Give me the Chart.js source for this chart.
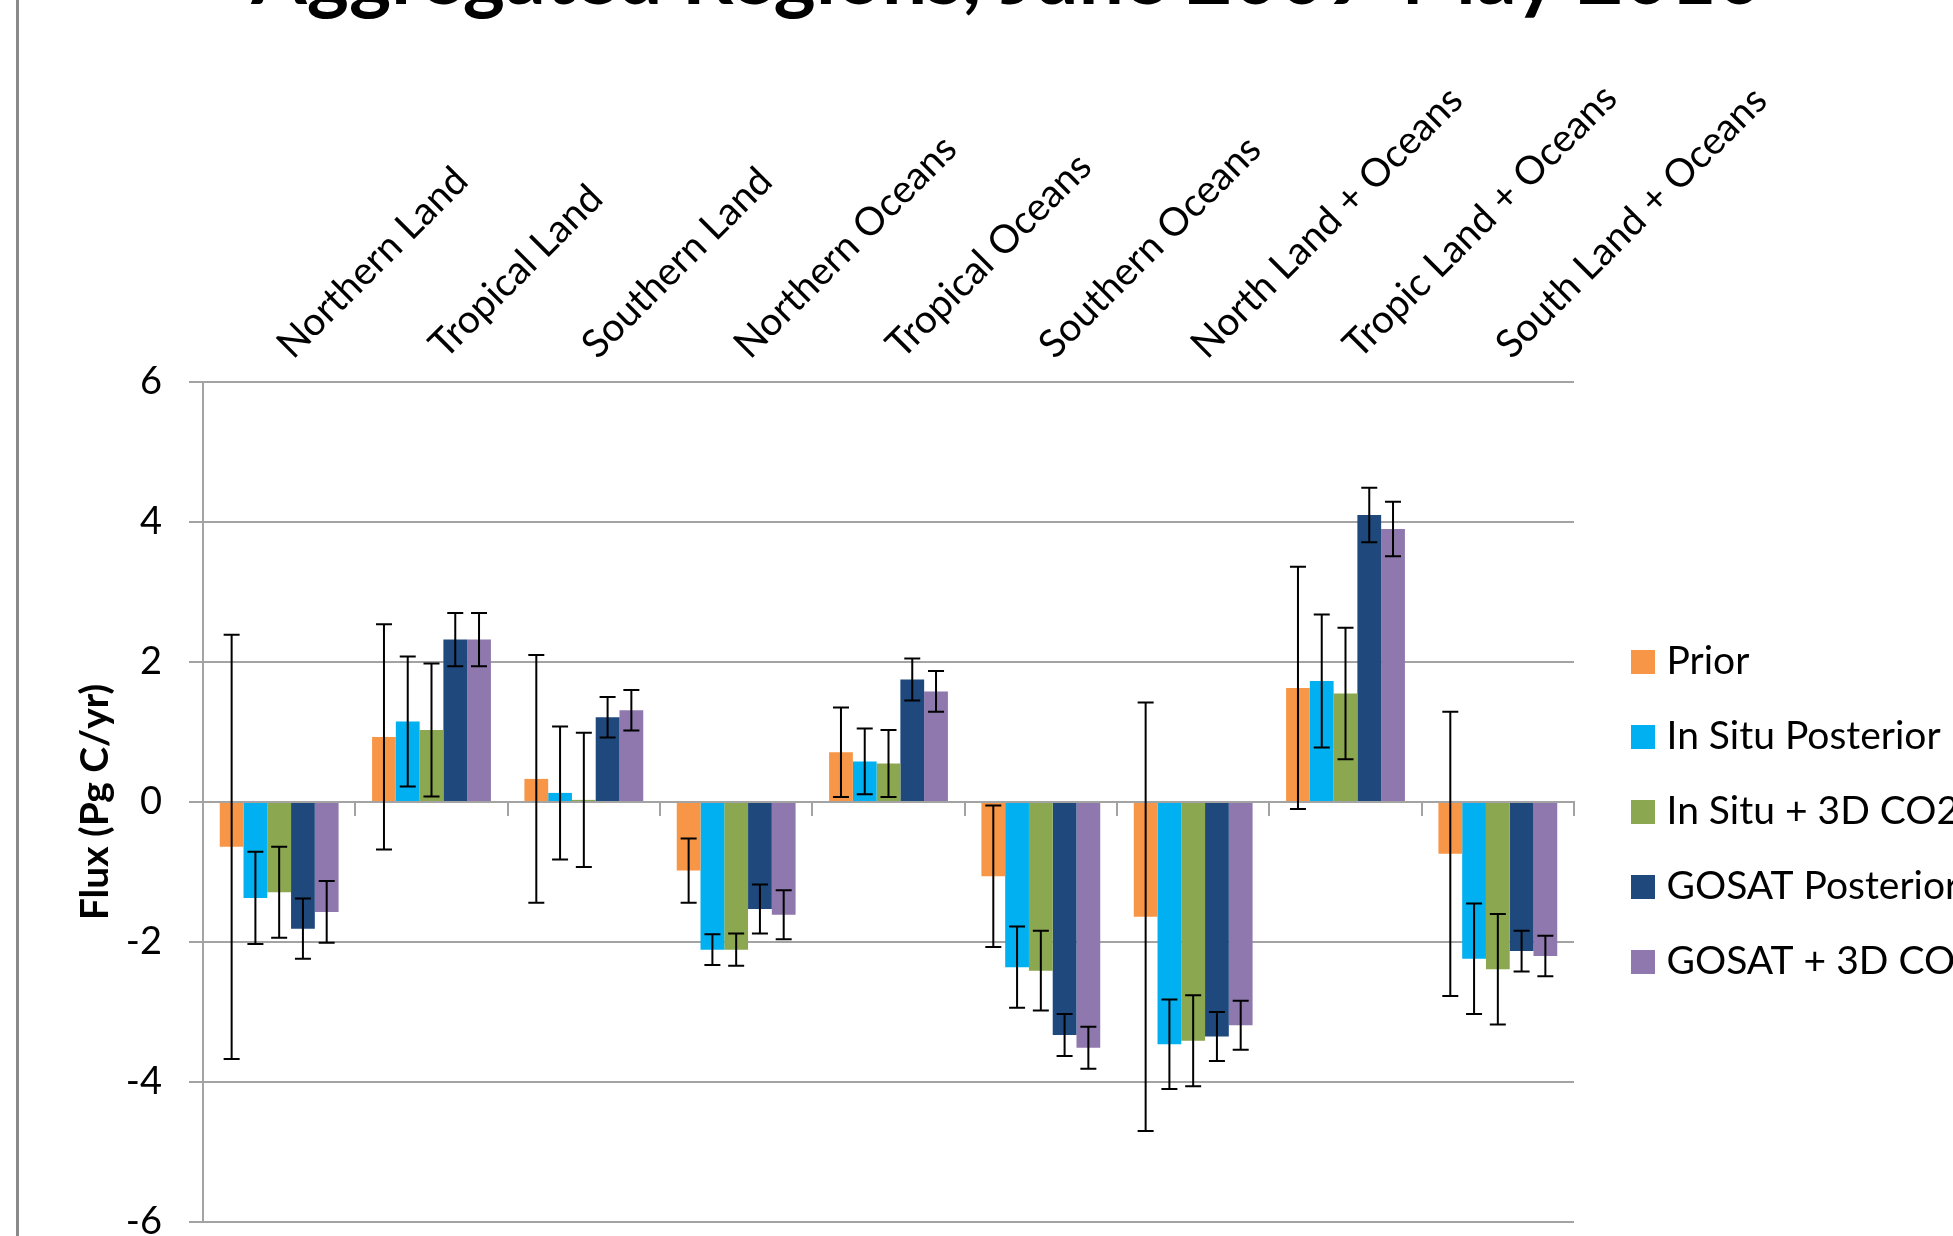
<!DOCTYPE html>
<html>
<head>
<meta charset="utf-8">
<script src="https://cdn.jsdelivr.net/npm/chart.js@4/dist/chart.umd.min.js"></script>
<style>
  html, body { margin: 0; padding: 0; background: #fff; overflow: hidden; width: 1953px; height: 1236px; }
  #wrap { position: absolute; left: 0; top: 0; }
</style>
</head>
<body>
<div id="wrap"><canvas id="chart"></canvas></div>
<script>
// Regional carbon flux estimates (Pg C/yr) with 1-sigma uncertainties
const regions = ['Northern Land', 'Tropical Land', 'Southern Land', 'Northern Oceans', 'Tropical Oceans',
                 'Southern Oceans', 'North Land + Oceans', 'Tropic Land + Oceans', 'South Land + Oceans'];
const seriesNames = ['Prior', 'In Situ Posterior', 'In Situ + 3D CO2', 'GOSAT Posterior', 'GOSAT + 3D CO2'];

const prior          = [-0.64, 0.93, 0.33, -0.98, 0.71, -1.06, -1.64, 1.63, -0.74];
const priorErr       = [ 3.03, 1.61, 1.77,  0.46, 0.64,  1.01,  3.06, 1.73,  2.03];
const inSitu         = [-1.37, 1.15, 0.13, -2.11, 0.58, -2.36, -3.46, 1.73, -2.24];
const inSituErr      = [ 0.66, 0.93, 0.95,  0.22, 0.47,  0.58,  0.64, 0.95,  0.79];
const inSitu3d       = [-1.29, 1.03, 0.03, -2.11, 0.55, -2.41, -3.41, 1.55, -2.39];
const inSitu3dErr    = [ 0.65, 0.95, 0.96,  0.23, 0.48,  0.57,  0.65, 0.94,  0.79];
const gosat          = [-1.81, 2.32, 1.21, -1.53, 1.75, -3.33, -3.35, 4.10, -2.13];
const gosatErr       = [ 0.43, 0.38, 0.29,  0.35, 0.30,  0.30,  0.35, 0.39,  0.29];
const gosat3d        = [-1.57, 2.32, 1.31, -1.61, 1.58, -3.51, -3.19, 3.90, -2.20];
const gosat3dErr     = [ 0.44, 0.38, 0.29,  0.35, 0.29,  0.30,  0.35, 0.39,  0.29];

const yTickMin = -6, yTickMax = 6, yTickStep = 2;

const seriesColors = ['#F79646', '#00B0F0', '#8BA74F', '#1F497D', '#8E78AD'];
const seriesValues = [prior, inSitu, inSitu3d, gosat, gosat3d];
const seriesErrors = [priorErr, inSituErr, inSitu3dErr, gosatErr, gosat3dErr];

// ---- layout (the chart object is larger than the page; its top strip sits above the fold) ----
const FONT = 'Lato';
const OFFSET = 70;                       // canvas rows hidden above the page
const CANVAS_W = 2100, CANVAS_H = 1236 + OFFSET + 60;
const TITLE_CENTER = 1007;
const PLOT_LEFT = 203, PLOT_RIGHT = 1574, PLOT_TOP = 382 + OFFSET, PLOT_BOTTOM = 1222 + OFFSET;
const TITLE_SIZE = 80, TITLE_LH = 1.2;
const LEGEND_SIZE = 39, LEGEND_PAD = 36, SWATCH_SLOT = 37;
const GRID = '#a3a3a3';

const canvas = document.getElementById('chart');
canvas.width = CANVAS_W;
canvas.height = CANVAS_H;
const wrap = document.getElementById('wrap');
wrap.style.top = (-OFFSET) + 'px';
wrap.style.width = CANVAS_W + 'px';
wrap.style.height = CANVAS_H + 'px';

// legend swatches: a 24px square sitting at the right of a transparent slot
const swatches = seriesColors.map(c => {
  const cv = document.createElement('canvas');
  cv.width = 53; cv.height = 24;
  const g = cv.getContext('2d');
  g.fillStyle = c;
  g.fillRect(29, 0, 24, 24);
  return cv;
});

// estimate legend width so that the plot's right edge and title centre land where wanted
const m = document.createElement('canvas').getContext('2d');
m.font = LEGEND_SIZE + 'px ' + FONT;
const widest = Math.max(...seriesNames.map(n => m.measureText(n).width));
const legendW = LEGEND_PAD + SWATCH_SLOT + LEGEND_SIZE / 2 + widest + 10;
const pad = { left: 0, right: 0, top: 0, bottom: CANVAS_H - PLOT_BOTTOM };
pad.right = CANVAS_W - PLOT_RIGHT - legendW;
pad.left = 2 * TITLE_CENTER - CANVAS_W + pad.right;

Chart.defaults.color = '#000';
Chart.defaults.font.family = FONT;

const errorBars = {
  id: 'errorBars',
  afterDatasetsDraw(chart) {
    const ctx = chart.ctx, yScale = chart.scales.y, cap = 8;
    ctx.save();
    ctx.strokeStyle = '#000';
    ctx.lineWidth = 2;
    chart.data.datasets.forEach((ds, i) => {
      chart.getDatasetMeta(i).data.forEach((bar, j) => {
        const yHi = yScale.getPixelForValue(ds.data[j] + ds.errors[j]);
        const yLo = yScale.getPixelForValue(ds.data[j] - ds.errors[j]);
        const x = bar.x;
        ctx.beginPath();
        ctx.moveTo(x, yHi); ctx.lineTo(x, yLo);
        ctx.moveTo(x - cap, yHi); ctx.lineTo(x + cap, yHi);
        ctx.moveTo(x - cap, yLo); ctx.lineTo(x + cap, yLo);
        ctx.stroke();
      });
    });
    ctx.restore();
  }
};

const frame = {
  id: 'frame',
  beforeDraw(chart) {
    const ctx = chart.ctx;
    ctx.save();
    ctx.fillStyle = '#fff';
    ctx.fillRect(0, 0, chart.width, chart.height);
    ctx.strokeStyle = '#8a8a8a';
    ctx.lineWidth = 3;
    ctx.beginPath();
    ctx.moveTo(17.5, 0); ctx.lineTo(17.5, chart.height);
    ctx.stroke();
    ctx.restore();
  }
};

const chart = new Chart(canvas, {
  type: 'bar',
  data: {
    labels: regions,
    datasets: seriesNames.map((name, i) => ({
      label: name,
      data: seriesValues[i],
      errors: seriesErrors[i],
      backgroundColor: seriesColors[i],
      borderWidth: 0,
      xAxisID: 'x',
      yAxisID: 'y',
      categoryPercentage: 0.78,
      barPercentage: 1.0
    }))
  },
  options: {
    responsive: false,
    animation: false,
    layout: { padding: pad },
    plugins: {
      tooltip: { enabled: false },
      title: {
        display: true,
        text: 'Aggregated Regions, June 2009-May 2010',
        color: '#000',
        font: { family: FONT, size: TITLE_SIZE, weight: 'bold', lineHeight: TITLE_LH },
        padding: { top: 0, bottom: 0 }
      },
      legend: {
        position: 'right',
        align: 'center',
        fullSize: false,
        title: { display: true, text: ' ', font: { size: 19, lineHeight: 1 }, padding: 0 },
        labels: {
          usePointStyle: true,
          pointStyleWidth: SWATCH_SLOT,
          padding: LEGEND_PAD,
          color: '#000',
          font: { family: FONT, size: LEGEND_SIZE },
          generateLabels(c) {
            const items = Chart.defaults.plugins.legend.labels.generateLabels(c);
            items.forEach((it, i) => { it.pointStyle = swatches[i]; });
            return items;
          }
        }
      }
    },
    scales: {
      x: {
        type: 'category',
        position: 'top',
        offset: true,
        grid: { display: false, drawTicks: false, tickLength: 0 },
        border: { display: false },
        ticks: {
          autoSkip: false, minRotation: 45, maxRotation: 45, padding: 14, labelOffset: 38,
          color: '#000', font: { family: FONT, size: 39 }
        },
        afterFit(s) { s.height = PLOT_TOP - TITLE_SIZE * TITLE_LH - pad.top; }
      },
      xz: {
        type: 'category',
        axis: 'x',
        position: { y: 0 },
        offset: true,
        grid: { offset: true, drawOnChartArea: false, drawTicks: true, tickLength: 13, color: GRID, lineWidth: 2 },
        border: { display: true, color: GRID, width: 2 },
        ticks: { display: false },
        afterFit(s) { s.height = 0; }
      },
      y: {
        type: 'linear',
        position: 'left',
        min: yTickMin,
        max: yTickMax,
        ticks: { stepSize: yTickStep, padding: 27, color: '#000', font: { family: FONT, size: 38 } },
        grid: { color: GRID, lineWidth: 2, tickLength: 14, drawTicks: true },
        border: { display: true, color: GRID, width: 2 },
        title: {
          display: true,
          text: 'Flux (Pg C/yr)',
          color: '#000',
          font: { family: FONT, size: 39, weight: 'bold' },
          padding: { top: 0, bottom: 0 }
        },
        afterFit(s) {
          s.width = PLOT_LEFT - pad.left;
          s.options.title.padding = { top: 95 - pad.left - 39 * 1.2 / 2, bottom: 0 };
        }
      }
    }
  },
  plugins: [frame, errorBars]
});

// settle the plot's right edge once the legend has measured itself
const drift = chart.chartArea.right - PLOT_RIGHT;
if (Math.abs(drift) > 0.5) {
  pad.left += drift;
  pad.right += drift;
  chart.update();
}
</script>
</body>
</html>
